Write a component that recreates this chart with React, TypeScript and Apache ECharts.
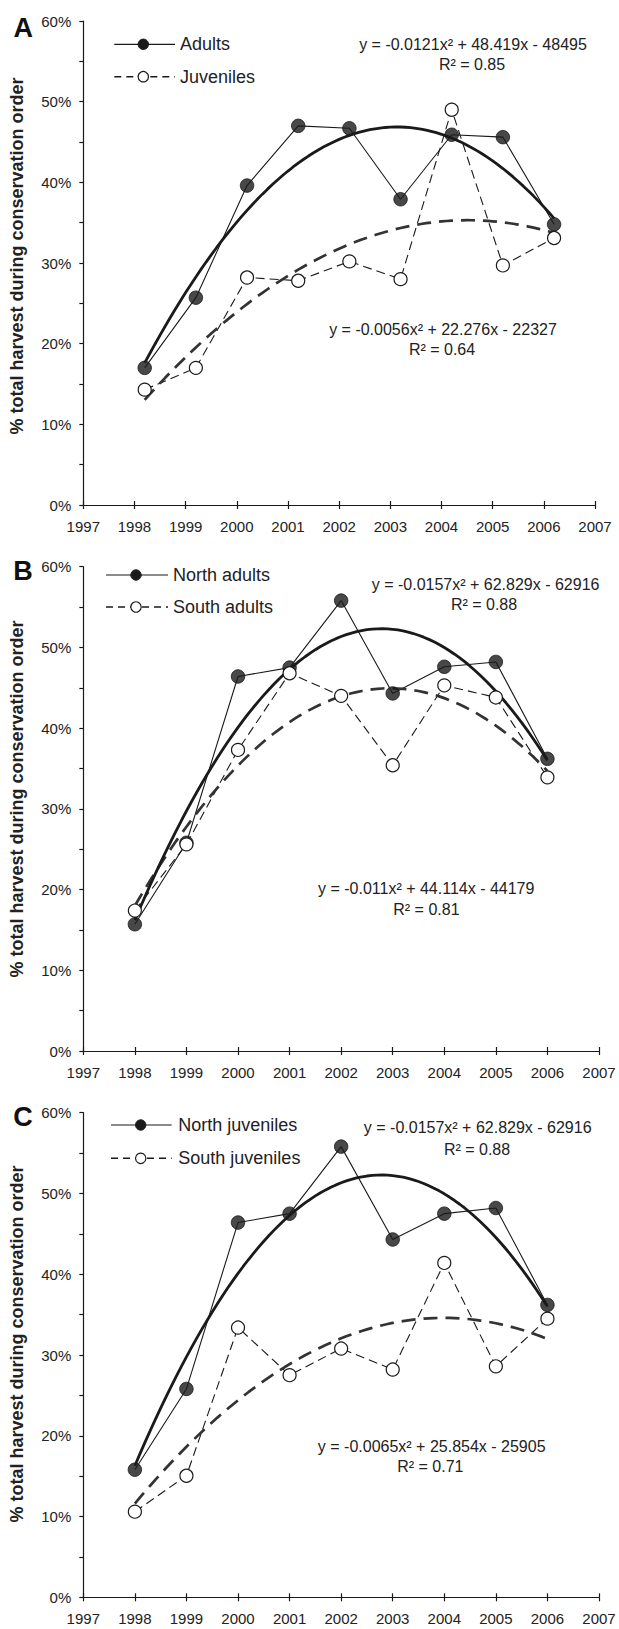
import React, { useEffect, useRef } from "react";
import * as echarts from "echarts";

// ---------- data ----------
const yearsA = [1998.2, 1999.2, 2000.2, 2001.2, 2002.2, 2003.2, 2004.2, 2005.2, 2006.2];
const yearsBC = [1998, 1999, 2000, 2001, 2002, 2003, 2004, 2005, 2006];

const adultsA = [17.0, 25.7, 39.6, 47.0, 46.7, 37.9, 45.9, 45.6, 34.8];
const juvenilesA = [14.3, 17.0, 28.2, 27.8, 30.2, 28.0, 49.0, 29.7, 33.1];

const northAdultsB = [15.7, 25.8, 46.4, 47.5, 55.8, 44.3, 47.6, 48.2, 36.2];
const southAdultsB = [17.4, 25.6, 37.3, 46.8, 44.0, 35.4, 45.3, 43.8, 33.9];

const northJuvenilesC = [15.8, 25.8, 46.4, 47.5, 55.8, 44.3, 47.5, 48.2, 36.2];
const southJuvenilesC = [10.6, 15.05, 33.4, 27.5, 30.8, 28.2, 41.4, 28.6, 34.5];

const xTickMin = 1997;
const xTickMax = 2007;
const yTickMax = 60;

const panelLetters = ["A", "B", "C"];
const legendNamesA = ["Adults", "Juveniles"];
const legendNamesB = ["North adults", "South adults"];
const legendNamesC = ["North juveniles", "South juveniles"];

const equationsA = ["y = -0.0121x² + 48.419x - 48495", "R² = 0.85", "y = -0.0056x² + 22.276x - 22327", "R² = 0.64"];
const equationsB = ["y = -0.0157x² + 62.829x - 62916", "R² = 0.88", "y = -0.011x² + 44.114x - 44179", "R² = 0.81"];
const equationsC = ["y = -0.0157x² + 62.829x - 62916", "R² = 0.88", "y = -0.0065x² + 25.854x - 25905", "R² = 0.71"];

const yAxisTitle = "% total harvest during conservation order";

// ---------- helpers ----------
// least-squares quadratic trend line computed from the data arrays
function quadTrend(xs: number[], ys: number[], samples = 80): number[][] {
  const n = xs.length;
  const mx = xs.reduce((a, b) => a + b, 0) / n;
  let s2 = 0, s3 = 0, s4 = 0, sy = 0, sty = 0, st2y = 0, s1 = 0;
  for (let i = 0; i < n; i++) {
    const t = xs[i] - mx;
    s1 += t; s2 += t * t; s3 += t * t * t; s4 += t * t * t * t;
    sy += ys[i]; sty += t * ys[i]; st2y += t * t * ys[i];
  }
  // solve [[n,s1,s2],[s1,s2,s3],[s2,s3,s4]] * [a,b,c] = [sy,sty,st2y]
  const M = [
    [n, s1, s2, sy],
    [s1, s2, s3, sty],
    [s2, s3, s4, st2y],
  ];
  for (let i = 0; i < 3; i++) {
    let p = i;
    for (let r = i + 1; r < 3; r++) if (Math.abs(M[r][i]) > Math.abs(M[p][i])) p = r;
    [M[i], M[p]] = [M[p], M[i]];
    for (let r = 0; r < 3; r++) {
      if (r === i) continue;
      const f = M[r][i] / M[i][i];
      for (let c = i; c < 4; c++) M[r][c] -= f * M[i][c];
    }
  }
  const a = M[0][3] / M[0][0];
  const b = M[1][3] / M[1][1];
  const c = M[2][3] / M[2][2];
  const out: number[][] = [];
  const x0 = xs[0], x1 = xs[n - 1];
  for (let k = 0; k <= samples; k++) {
    const x = x0 + ((x1 - x0) * k) / samples;
    const t = x - mx;
    out.push([x, a + b * t + c * t * t]);
  }
  return out;
}

const FONT = "'Liberation Sans', Arial, Helvetica, sans-serif";
const INK = "#1a1a1a";

const gridsLayout = [
  { left: 83.3, top: 21, width: 511.7, height: 484 },
  { left: 83.3, top: 566.7, width: 515.7, height: 484.3 },
  { left: 83.3, top: 1112.7, width: 515.7, height: 484.6 },
];

const panels = [
  { xs: yearsA, s1: adultsA, s2: juvenilesA },
  { xs: yearsBC, s1: northAdultsB, s2: southAdultsB },
  { xs: yearsBC, s1: northJuvenilesC, s2: southJuvenilesC },
];

const legendLayout = [
  { x0: 114.3, x1: 175, mx: 143.3, tx: 180, y: [44.3, 76.7], names: legendNamesA },
  { x0: 106, x1: 168, mx: 136, tx: 173, y: [575, 607], names: legendNamesB },
  { x0: 111, x1: 171.7, mx: 140.7, tx: 178.3, y: [1125, 1158.3], names: legendNamesC },
];

const eqLayout = [
  { eq: equationsA, pos: [[473, 44], [472, 64.3], [443, 329], [442, 349.3]] },
  { eq: equationsB, pos: [[485.6, 584.3], [484, 604.3], [426.2, 888.3], [426.4, 909]] },
  { eq: equationsC, pos: [[477.7, 1127.7], [477, 1149], [431.7, 1446.7], [430.3, 1466.7]] },
];

const letterPos = [[23.3, 27.5], [23, 571], [23, 1117]];
const titlePos = [[17, 256], [17, 799], [17, 1344]];

function buildOption() {
  const grid: any[] = [];
  const xAxis: any[] = [];
  const yAxis: any[] = [];
  const series: any[] = [];
  const graphic: any[] = [];

  panels.forEach((p, i) => {
    grid.push({ ...gridsLayout[i], containLabel: false });
    // main x axis (outside ticks + labels)
    xAxis.push({
      type: "value",
      gridIndex: i,
      min: xTickMin,
      max: xTickMax,
      interval: 1,
      position: "bottom",
      axisLine: { show: true, lineStyle: { color: INK, width: 1.2 } },
      axisTick: { show: true, length: 4, lineStyle: { color: INK, width: 1.2 } },
      axisLabel: {
        show: true,
        margin: 14,
        fontSize: 15,
        fontFamily: FONT,
        color: "#222",
        formatter: (v: number) => String(v),
      },
      splitLine: { show: false },
    });
    // overlay x axis (inside ticks, so ticks cross the axis line)
    xAxis.push({
      type: "value",
      gridIndex: i,
      min: xTickMin,
      max: xTickMax,
      interval: 1,
      position: "bottom",
      axisLine: { show: false },
      axisTick: { show: true, inside: true, length: 4, lineStyle: { color: INK, width: 1.2 } },
      axisLabel: { show: false },
      splitLine: { show: false },
    });
    yAxis.push({
      type: "value",
      gridIndex: i,
      min: 0,
      max: yTickMax,
      interval: 5,
      axisLine: { show: true, lineStyle: { color: INK, width: 1.2 } },
      axisTick: { show: true, length: 4, lineStyle: { color: INK, width: 1.2 } },
      axisLabel: {
        show: true,
        margin: 12,
        fontSize: 15,
        fontFamily: FONT,
        color: "#222",
        formatter: (v: number) => (v % 10 === 0 ? v + "%" : ""),
      },
      splitLine: { show: false },
    });

    const xi = i * 2;
    const pts1 = p.xs.map((x, k) => [x, p.s1[k]]);
    const pts2 = p.xs.map((x, k) => [x, p.s2[k]]);

    series.push({
      type: "line",
      xAxisIndex: xi,
      yAxisIndex: i,
      data: pts1,
      showSymbol: false,
      lineStyle: { color: INK, width: 1.1 },
      z: 2,
      silent: true,
    });
    series.push({
      type: "line",
      xAxisIndex: xi,
      yAxisIndex: i,
      data: pts2,
      showSymbol: false,
      lineStyle: { color: INK, width: 1.1, type: [9, 5] },
      z: 2,
      silent: true,
    });
    series.push({
      type: "line",
      xAxisIndex: xi,
      yAxisIndex: i,
      data: quadTrend(p.xs, p.s2),
      showSymbol: false,
      lineStyle: { color: "#333", width: 2.7, type: [14, 8] },
      z: 3,
      silent: true,
    });
    series.push({
      type: "line",
      xAxisIndex: xi,
      yAxisIndex: i,
      data: quadTrend(p.xs, p.s1),
      showSymbol: false,
      lineStyle: { color: INK, width: 2.8 },
      z: 3,
      silent: true,
    });
    series.push({
      type: "scatter",
      xAxisIndex: xi,
      yAxisIndex: i,
      data: pts1,
      symbol: "circle",
      symbolSize: 13.5,
      itemStyle: { color: INK, borderColor: INK, borderWidth: 1 },
      z: 4,
      silent: true,
    });
    series.push({
      type: "scatter",
      xAxisIndex: xi,
      yAxisIndex: i,
      data: pts2,
      symbol: "circle",
      symbolSize: 13,
      itemStyle: { color: "#fff", borderColor: INK, borderWidth: 1.2, opacity: 1 },
      z: 5,
      silent: true,
    });

    // legend
    const L = legendLayout[i];
    graphic.push({
      type: "line",
      shape: { x1: L.x0, y1: L.y[0], x2: L.x1, y2: L.y[0] },
      style: { stroke: INK, lineWidth: 1.2 },
      z: 10,
    });
    graphic.push({
      type: "circle",
      shape: { cx: L.mx, cy: L.y[0], r: 5.2 },
      style: { fill: INK, stroke: INK, lineWidth: 1 },
      z: 11,
    });
    graphic.push({
      type: "line",
      shape: { x1: L.x0, y1: L.y[1], x2: L.x1, y2: L.y[1] },
      style: { stroke: INK, lineWidth: 1.5, lineDash: [7, 5] },
      z: 10,
    });
    graphic.push({
      type: "circle",
      shape: { cx: L.mx, cy: L.y[1], r: 5.2 },
      style: { fill: "#fff", stroke: INK, lineWidth: 1.2 },
      z: 11,
    });
    L.names.forEach((nm, k) => {
      graphic.push({
        type: "text",
        x: L.tx,
        y: L.y[k],
        style: {
          text: nm,
          fontSize: 18,
          fontFamily: FONT,
          fill: "#222",
          align: "left",
          verticalAlign: "middle",
        },
        z: 11,
      });
    });

    // equations
    const E = eqLayout[i];
    E.eq.forEach((t, k) => {
      graphic.push({
        type: "text",
        x: E.pos[k][0],
        y: E.pos[k][1],
        style: {
          text: t,
          fontSize: 16,
          fontFamily: FONT,
          fill: "#222",
          align: "center",
          verticalAlign: "middle",
        },
        z: 11,
      });
    });

    // panel letter
    graphic.push({
      type: "text",
      x: letterPos[i][0],
      y: letterPos[i][1],
      style: {
        text: panelLetters[i],
        fontSize: 27,
        fontWeight: "bold",
        fontFamily: FONT,
        fill: "#111",
        align: "center",
        verticalAlign: "middle",
      },
      z: 11,
    });

    // y-axis title
    graphic.push({
      type: "text",
      x: titlePos[i][0],
      y: titlePos[i][1],
      rotation: Math.PI / 2,
      style: {
        text: yAxisTitle,
        fontSize: 18,
        fontWeight: "bold",
        fontFamily: FONT,
        fill: "#222",
        align: "center",
        verticalAlign: "middle",
      },
      z: 11,
    });
  });

  return {
    animation: false,
    backgroundColor: "#ffffff",
    grid,
    xAxis,
    yAxis,
    series,
    graphic,
  };
}

export default function App() {
  const ref = useRef<HTMLDivElement | null>(null);
  useEffect(() => {
    if (!ref.current) return;
    const chart = echarts.init(ref.current, undefined, { renderer: "svg" });
    chart.setOption(buildOption() as any);
    return () => {
      chart.dispose();
    };
  }, []);
  return (
    <div
      ref={ref}
      style={{ position: "absolute", left: 0, top: 0, width: 619, height: 1629, background: "#fff" }}
    />
  );
}
